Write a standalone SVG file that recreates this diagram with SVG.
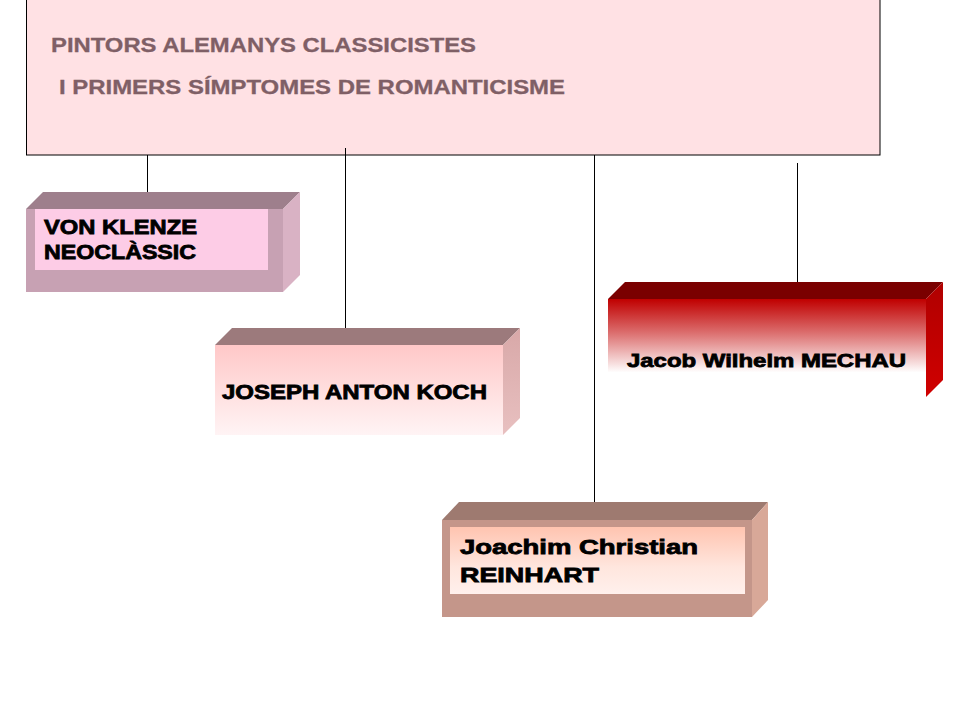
<svg xmlns="http://www.w3.org/2000/svg" width="960" height="720" viewBox="0 0 960 720">
<defs>
<linearGradient id="gKoch" x1="0" y1="0" x2="0" y2="1">
<stop offset="0" stop-color="#FFC8C8"/>
<stop offset="1" stop-color="#FFF4F5"/>
</linearGradient>
<linearGradient id="gMech" x1="0" y1="0" x2="0" y2="1">
<stop offset="0" stop-color="#C00000"/>
<stop offset="0.35" stop-color="#DC7070"/>
<stop offset="0.75" stop-color="#FFFFFF"/>
<stop offset="1" stop-color="#FFFFFF"/>
</linearGradient>
<linearGradient id="gMechR" x1="0" y1="0" x2="0" y2="1">
<stop offset="0" stop-color="#B00000"/>
<stop offset="1" stop-color="#D00000"/>
</linearGradient>
<linearGradient id="gRein" x1="0" y1="0" x2="0" y2="1">
<stop offset="0" stop-color="#FFC4B0"/>
<stop offset="0.6" stop-color="#FFE6DE"/>
<stop offset="1" stop-color="#FFF0EC"/>
</linearGradient>
<linearGradient id="gKochR" x1="0" y1="0" x2="0" y2="1">
<stop offset="0" stop-color="#D8A8A8"/>
<stop offset="1" stop-color="#E8C0C0"/>
</linearGradient>
</defs>
<style>
.title { font-family: "Liberation Sans", Arial, sans-serif; font-weight: bold; font-size: 20px; fill: #7F5F66; stroke: #7F5F66; stroke-width: 0.3px; }
.lbl { font-family: "Liberation Sans", Arial, sans-serif; font-weight: bold; fill: #000; stroke: #000; stroke-width: 0.8px; }
.conn line { stroke: #000; stroke-width: 1; }
</style>
<rect width="960" height="720" fill="#FFFFFF"/>

<g id="header">
<rect x="26.5" y="-1" width="853.5" height="156" fill="#FFE1E4" stroke="#000" stroke-width="1"/>
<text class="title" x="51" y="52" textLength="425" lengthAdjust="spacingAndGlyphs">PINTORS ALEMANYS CLASSICISTES</text>
<text class="title" x="59" y="94" textLength="506" lengthAdjust="spacingAndGlyphs">I PRIMERS SÍMPTOMES DE ROMANTICISME</text>
</g>

<g id="connectors" class="conn">
<line x1="147.5" y1="155" x2="147.5" y2="192"/>
<line x1="345.5" y1="148" x2="345.5" y2="328"/>
<line x1="594.5" y1="155" x2="594.5" y2="502"/>
<line x1="797.5" y1="163" x2="797.5" y2="283"/>
</g>

<g id="node-klenze">
<polygon points="26,209 43,192 300,192 283,209" fill="#9E7F8C"/>
<polygon points="283,209 300,192 300,275 283,292" fill="#D9B2C4"/>
<rect x="26" y="209" width="257" height="83" fill="#C7A1B3"/>
<rect x="35" y="209" width="233" height="61" fill="#FDCCE6"/>
<text class="lbl" x="44" y="234" font-size="20" textLength="153" lengthAdjust="spacingAndGlyphs">VON KLENZE</text>
<text class="lbl" x="44" y="259" font-size="20" textLength="152" lengthAdjust="spacingAndGlyphs">NEOCLÀSSIC</text>
</g>

<g id="node-koch">
<polygon points="215,345 232,328 520,328 503,345" fill="#9C7A7C"/>
<polygon points="503,345 520,328 520,418 503,435" fill="url(#gKochR)"/>
<rect x="215" y="345" width="288" height="90" fill="url(#gKoch)"/>
<text class="lbl" x="222" y="399" font-size="20" textLength="265" lengthAdjust="spacingAndGlyphs">JOSEPH ANTON KOCH</text>
</g>

<g id="node-mechau">
<polygon points="608,299 625,282 943,282 926,299" fill="#7A0000"/>
<polygon points="926,299 943,282 943,380 926,397" fill="url(#gMechR)"/>
<rect x="608" y="299" width="318" height="98" fill="url(#gMech)"/>
<text class="lbl" x="627" y="367" font-size="19" textLength="279" lengthAdjust="spacingAndGlyphs">Jacob Wilhelm MECHAU</text>
</g>

<g id="node-reinhart">
<polygon points="442,520 459,502 768,502 752,520" fill="#9E7A70"/>
<polygon points="752,520 768,502 768,600 752,617" fill="#D8A898"/>
<rect x="442" y="520" width="310" height="97" fill="#C4968A"/>
<rect x="450" y="527" width="295" height="67" fill="url(#gRein)"/>
<text class="lbl" x="460" y="554" font-size="21" textLength="238" lengthAdjust="spacingAndGlyphs">Joachim Christian</text>
<text class="lbl" x="460" y="582" font-size="21" textLength="139" lengthAdjust="spacingAndGlyphs">REINHART</text>
</g>
</svg>
